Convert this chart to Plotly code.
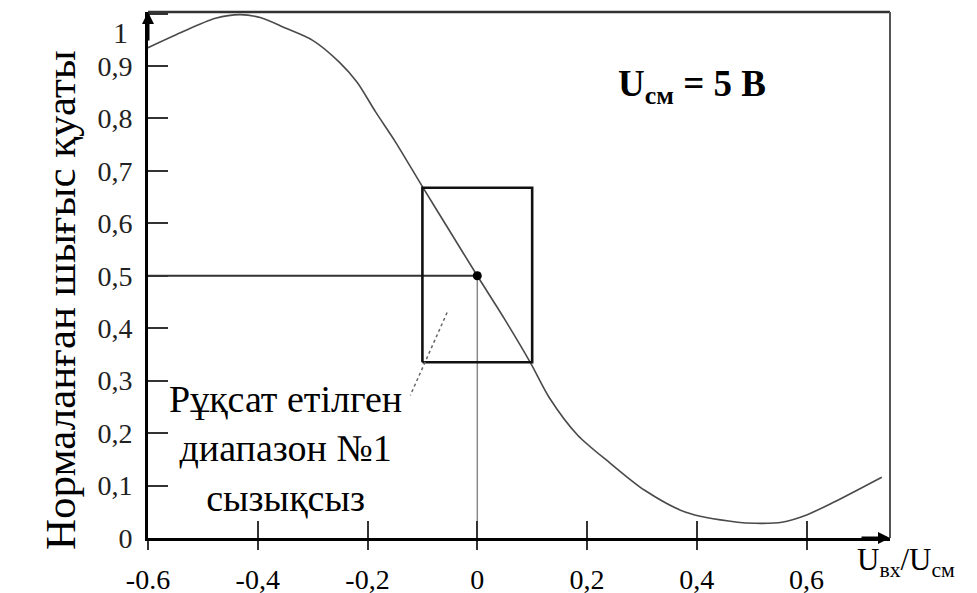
import plotly.graph_objects as go

# ---- data ----
curve_x = [-0.600, -0.540, -0.477, -0.432, -0.394, -0.351, -0.300, -0.251, -0.219,
           -0.185, -0.149, -0.100, -0.050, 0.000, 0.050, 0.097, 0.131, 0.183, 0.243,
           0.305, 0.380, 0.474, 0.506, 0.555, 0.600, 0.649, 0.737]
curve_y = [0.935, 0.964, 0.991, 0.998, 0.992, 0.973, 0.949, 0.907, 0.869,
           0.812, 0.755, 0.670, 0.585, 0.500, 0.417, 0.334, 0.268, 0.196, 0.142,
           0.091, 0.049, 0.030, 0.028, 0.030, 0.044, 0.068, 0.116]

range_x = [-0.1, 0.1]          # allowed range box (x)
range_y = [0.335, 0.668]       # allowed range box (y)
op_x, op_y = 0.0, 0.5          # operating point
leader_x = [-0.055, -0.122]
leader_y = [0.430, 0.272]

x_tickvals = [-0.6, -0.4, -0.2, 0, 0.2, 0.4, 0.6]
x_ticktext = ["-0.6", "-0,4", "-0,2", "0", "0,2", "0,4", "0,6"]
y_tickvals = [0, 0.1, 0.2, 0.3, 0.4, 0.5, 0.6, 0.7, 0.8, 0.9, 1.0]
y_ticktext = ["0", "0,1", "0,2", "0,3", "0,4", "0,5", "0,6", "0,7", "0,8", "0,9", "1"]
top_label_y = 0.964            # the "1" label sits a little below the top edge

x_range = [-0.6, 0.752]
y_range = [0, 1.003]

serif = "Liberation Serif, Times New Roman, serif"

fig = go.Figure()

fig.add_trace(go.Scatter(x=curve_x, y=curve_y, mode="lines",
                         line=dict(color="#4a4a4a", width=1.6, shape="spline", smoothing=0.8),
                         hoverinfo="skip", showlegend=False))
fig.add_trace(go.Scatter(x=[x_range[0], op_x], y=[op_y, op_y], mode="lines",
                         line=dict(color="#333333", width=2), showlegend=False))
fig.add_trace(go.Scatter(x=[op_x, op_x], y=[y_range[0], op_y], mode="lines",
                         line=dict(color="#8a8a8a", width=1.5), showlegend=False))
fig.add_trace(go.Scatter(x=[range_x[0], range_x[0], range_x[1], range_x[1], range_x[0]],
                         y=[range_y[0], range_y[1], range_y[1], range_y[0], range_y[0]],
                         mode="lines", line=dict(color="#111111", width=2.6),
                         showlegend=False))
fig.add_trace(go.Scatter(x=leader_x, y=leader_y, mode="lines",
                         line=dict(color="#666666", width=1.5, dash="dot"), showlegend=False))
fig.add_trace(go.Scatter(x=[op_x], y=[op_y], mode="markers", xaxis="x2",
                         marker=dict(color="black", size=9), showlegend=False))

fig.update_layout(
    width=977, height=593,
    margin=dict(l=140, r=95, t=4, b=63, autoexpand=False),
    paper_bgcolor="white", plot_bgcolor="white",
    font=dict(family=serif, color="black"),
    xaxis=dict(range=x_range, showgrid=False, zeroline=False, automargin=False,
               showline=True, linewidth=3, linecolor="black",
               tickmode="array", tickvals=x_tickvals, ticktext=x_ticktext,
               ticks="outside", ticklen=9, tickwidth=1.5, tickcolor="#333",
               ticklabelstandoff=5,
               tickfont=dict(family=serif, size=28, color="black")),
    xaxis2=dict(range=x_range, overlaying="x", anchor="y", side="bottom",
                showgrid=False, zeroline=False, showline=False, automargin=False,
                tickmode="array", tickvals=x_tickvals, ticks="inside", ticklen=17,
                tickwidth=1.5, tickcolor="#333", showticklabels=False),
    yaxis=dict(range=y_range, showgrid=False, zeroline=False, automargin=False,
               showline=True, linewidth=3, linecolor="black",
               tickmode="array", tickvals=y_tickvals,
               ticktext=y_ticktext[:-1] + [""],
               ticks="inside", ticklen=20, tickwidth=1.5, tickcolor="#333",
               ticklabelstandoff=7,
               tickfont=dict(family=serif, size=28, color="#222")),
    shapes=[
        dict(type="line", xref="paper", yref="paper", x0=0, x1=1, y0=1, y1=1,
             line=dict(color="#333", width=2.5)),
        dict(type="line", xref="paper", yref="paper", x0=1, x1=1, y0=0, y1=1,
             line=dict(color="#555", width=2)),
    ],
    annotations=[
        dict(xref="paper", yref="paper", x=0, y=1.0, ax=0, ay=30, text="",
             showarrow=True, arrowhead=2, arrowsize=0.8, arrowwidth=3, arrowcolor="black"),
        dict(xref="paper", yref="paper", x=1, y=0, ax=-30, ay=0, text="",
             showarrow=True, arrowhead=2, arrowsize=0.8, arrowwidth=3, arrowcolor="black"),
        dict(xref="paper", yref="y", x=-0.024, y=top_label_y, xanchor="right",
             text=y_ticktext[-1], showarrow=False,
             font=dict(family=serif, size=30, color="#222")),
        dict(xref="paper", yref="paper", x=-0.152, y=0.452, textangle=-90,
             text="Нормаланған шығыс қуаты", showarrow=False,
             font=dict(family=serif, size=43, color="black")),
        dict(xref="paper", yref="paper", x=0.953, y=-0.088, xanchor="left",
             text="U<sub>вх</sub>/U<sub>см</sub>", showarrow=False,
             font=dict(family=serif, size=31, color="black")),
        dict(xref="x", yref="y", x=0.391, y=0.861,
             text="<b>U<sub>см</sub> = 5 В</b>", showarrow=False,
             font=dict(family=serif, size=37, color="black")),
        dict(xref="x", yref="y", x=-0.35, y=0.171,
             text="Рұқсат етілген<br>диапазон №1<br>сызықсыз", showarrow=False,
             font=dict(family=serif, size=38, color="black")),
    ],
)

fig.write_html("out.html")
